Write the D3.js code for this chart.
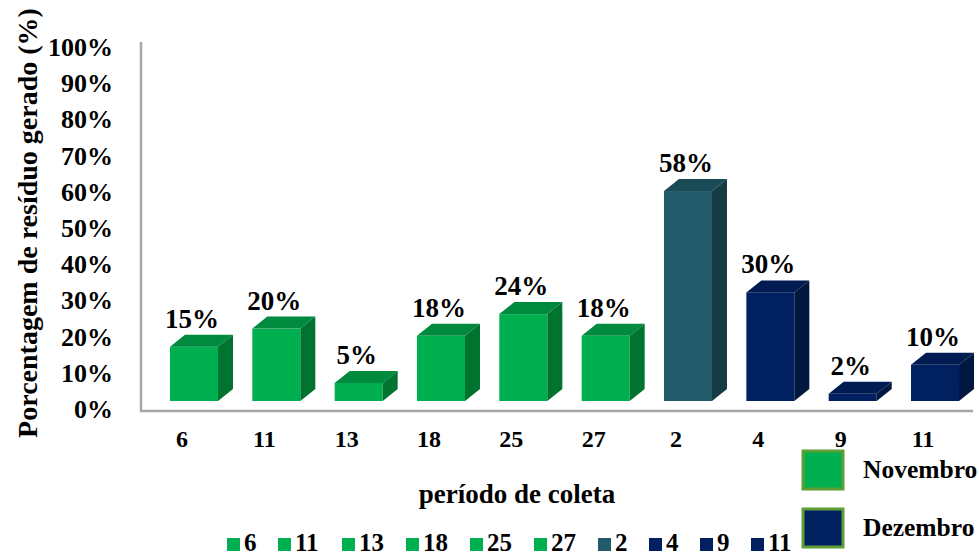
<!DOCTYPE html>
<html>
<head>
<meta charset="utf-8">
<script src="https://cdn.jsdelivr.net/npm/d3@7"></script>
<style>
  body { margin: 0; background: #fff; }
  svg text { font-family: "Liberation Serif", "Times New Roman", serif; font-weight: bold; fill: #000; }
</style>
</head>
<body>
<div id="chart"></div>
<script>
// data
var days = ["6", "11", "13", "18", "25", "27", "2", "4", "9", "11"];
var months = ["Novembro", "Novembro", "Novembro", "Novembro", "Novembro", "Novembro",
              "Dezembro", "Dezembro", "Dezembro", "Dezembro"];
var values = [15, 20, 5, 18, 24, 18, 58, 30, 2, 10];
var yTicks = [0, 10, 20, 30, 40, 50, 60, 70, 80, 90, 100];
var monthNames = ["Novembro", "Dezembro"];

// styles
var barColors = ["green", "green", "green", "green", "green", "green", "teal", "navy", "navy", "navy"];
var faces = {
  green: { front: "#00b050", top: "#008a3e", side: "#00742f" },
  teal:  { front: "#215a69", top: "#1b4a57", side: "#163b45" },
  navy:  { front: "#002060", top: "#001b52", side: "#00173f" }
};
var monthColors = { Novembro: "#00b050", Dezembro: "#002060" };

var width = 979,
    height = 558,
    depthX = 15,
    depthY = -12;

var svg = d3.select("#chart").append("svg")
    .attr("width", width)
    .attr("height", height);

var idx = d3.range(values.length);

var x = d3.scaleBand()
    .domain(idx)
    .range([141, 988])
    .paddingInner(0.417)
    .paddingOuter(0.352);

var y = d3.scaleLinear()
    .domain([0, 100])
    .range([401, 39]);

// axis lines
svg.append("path")
    .attr("d", "M141 42 L141 411 L973 411")
    .attr("fill", "none")
    .attr("stroke", "#a6a6a6")
    .attr("stroke-width", 2.5);

// y tick labels
svg.selectAll(".ytick").data(yTicks).enter().append("text")
    .attr("class", "ytick")
    .attr("x", 113)
    .attr("y", function (d) { return y(d) + 17; })
    .attr("text-anchor", "end")
    .style("font-size", "26px")
    .text(function (d) { return d + "%"; });

// 3d bars
var bars = svg.selectAll(".bar").data(idx).enter().append("g").attr("class", "bar");

bars.each(function (i) {
  var g = d3.select(this);
  var x0 = x(i), w = x.bandwidth(), yt = y(values[i]), yb = y(0);
  var c = faces[barColors[i]];
  g.append("rect")
      .attr("x", x0).attr("y", yt)
      .attr("width", w).attr("height", yb - yt)
      .attr("fill", c.front);
  g.append("path")
      .attr("d", "M" + x0 + " " + yt + " l" + depthX + " " + depthY + " l" + w + " 0 l" + (-depthX) + " " + (-depthY) + "Z")
      .attr("fill", c.top);
  g.append("path")
      .attr("d", "M" + (x0 + w) + " " + yt + " l" + depthX + " " + depthY + " L" + (x0 + w + depthX) + " " + (yb + depthY) + " L" + (x0 + w) + " " + yb + "Z")
      .attr("fill", c.side);
});

// value labels
svg.selectAll(".val").data(idx).enter().append("text")
    .attr("class", "val")
    .attr("x", function (i) { return x(i) + x.bandwidth() / 2 - 2; })
    .attr("y", function (i) { return y(values[i]) - 19; })
    .attr("text-anchor", "middle")
    .style("font-size", "27px")
    .text(function (i) { return values[i] + "%"; });

// category labels
svg.selectAll(".cat").data(idx).enter().append("text")
    .attr("class", "cat")
    .attr("x", function (i) { return x(i) + x.bandwidth() / 2 - 12; })
    .attr("y", 447)
    .attr("text-anchor", "middle")
    .style("font-size", "24px")
    .text(function (i) { return days[i]; });

// axis titles
svg.append("text")
    .attr("x", 517)
    .attr("y", 503)
    .attr("text-anchor", "middle")
    .style("font-size", "27px")
    .text("período de coleta");

svg.append("text")
    .attr("transform", "translate(37,223) rotate(-90)")
    .attr("text-anchor", "middle")
    .style("font-size", "28px")
    .text("Porcentagem de resíduo gerado (%)");

// month legend
var ml = svg.selectAll(".mleg").data(monthNames).enter().append("g")
    .attr("class", "mleg")
    .attr("transform", function (d, k) { return "translate(803," + (451 + k * 58) + ")"; });
ml.append("rect")
    .attr("width", 40).attr("height", 38)
    .attr("fill", function (d) { return monthColors[d]; })
    .attr("stroke", "#5e9e35")
    .attr("stroke-width", 3);
ml.append("text")
    .attr("x", 60)
    .attr("y", 27)
    .style("font-size", "25.5px")
    .text(function (d) { return d; });

// bottom legend
var legX = 227, legPos = [];
idx.forEach(function (i) {
  legPos.push(legX);
  legX += 18 + days[i].length * 13 + 20;
});
var bl = svg.selectAll(".bleg").data(idx).enter().append("g")
    .attr("class", "bleg")
    .attr("transform", function (i) { return "translate(" + legPos[i] + ",538)"; });
bl.append("rect")
    .attr("width", 13).attr("height", 13)
    .attr("fill", function (i) { return faces[barColors[i]].front; });
bl.append("text")
    .attr("x", 17)
    .attr("y", 13)
    .style("font-size", "25px")
    .text(function (i) { return days[i]; });
</script>
</body>
</html>
